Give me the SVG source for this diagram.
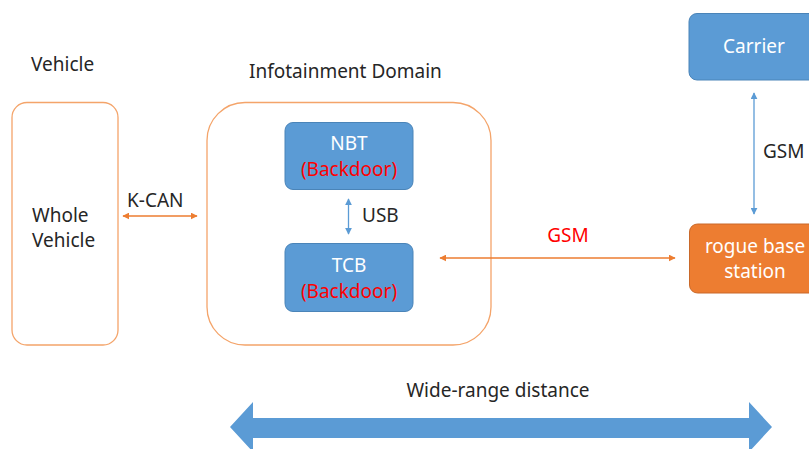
<svg xmlns="http://www.w3.org/2000/svg" width="809" height="449" viewBox="0 0 809 449">
  <style>
    text { font-family: "Noto Sans", "Open Sans", "Liberation Sans", sans-serif; font-size: 19px; }
    .dark { fill: #262626; }
    .white { fill: #ffffff; }
    .red { fill: #ff0000; }
    .outline { fill: #ffffff; stroke: #f4a46a; stroke-width: 1.3; }
    .blue { fill: #5b9bd5; stroke: #4a84b8; stroke-width: 1; }
    .orange { fill: #ed7d31; stroke: #c9692a; stroke-width: 1; }
    .link-o { stroke: #ed7d31; stroke-width: 1.5; fill: none; }
    .link-b { stroke: #5b9bd5; stroke-width: 1.3; fill: none; }
  </style>
  <defs>
    <marker id="ao" viewBox="0 0 10 10" refX="9" refY="5" markerWidth="7" markerHeight="7" markerUnits="userSpaceOnUse" orient="auto-start-reverse">
      <path d="M0,0 L10,5 L0,10 z" fill="#ed7d31"/>
    </marker>
    <marker id="ab" viewBox="0 0 10 10" refX="9" refY="5" markerWidth="7" markerHeight="7" markerUnits="userSpaceOnUse" orient="auto-start-reverse">
      <path d="M0,0 L10,5 L0,10 z" fill="#5b9bd5"/>
    </marker>
  </defs>

  <rect width="809" height="449" fill="#ffffff"/>

  <!-- section titles -->
  <text class="dark" x="31" y="71">Vehicle</text>
  <text class="dark" x="249" y="78">Infotainment Domain</text>

  <g id="whole-vehicle">
    <rect class="outline" x="12" y="102.5" width="106" height="242.5" rx="15"/>
    <text class="dark" x="32" y="222">Whole</text>
    <text class="dark" x="32" y="247">Vehicle</text>
  </g>

  <g id="infotainment-domain">
    <rect class="outline" x="207" y="102.5" width="284" height="242.5" rx="38"/>
  </g>

  <g id="nbt">
    <rect class="blue" x="285" y="122.5" width="128" height="67" rx="8"/>
    <text class="white" x="349" y="150" text-anchor="middle">NBT</text>
    <text class="red" x="349" y="176" text-anchor="middle">(Backdoor)</text>
  </g>

  <g id="tcb">
    <rect class="blue" x="285" y="243.5" width="128" height="68" rx="8"/>
    <text class="white" x="349" y="272" text-anchor="middle">TCB</text>
    <text class="red" x="349" y="298" text-anchor="middle">(Backdoor)</text>
  </g>

  <g id="carrier">
    <rect class="blue" x="689" y="13.5" width="140" height="66.5" rx="8"/>
    <text class="white" x="754" y="53" text-anchor="middle">Carrier</text>
  </g>

  <g id="rogue-base-station">
    <rect class="orange" x="689.5" y="224" width="140" height="69" rx="8"/>
    <text class="white" x="755" y="253" text-anchor="middle">rogue base</text>
    <text class="white" x="755" y="278" text-anchor="middle">station</text>
  </g>

  <g id="connectors">
    <line class="link-o" x1="123" y1="216" x2="197" y2="216" marker-start="url(#ao)" marker-end="url(#ao)"/>
    <text class="dark" x="127" y="207">K-CAN</text>

    <line class="link-b" x1="348.5" y1="199" x2="348.5" y2="234" marker-start="url(#ab)" marker-end="url(#ab)"/>
    <text class="dark" x="362" y="222">USB</text>

    <line class="link-o" x1="440" y1="258" x2="675" y2="258" marker-start="url(#ao)" marker-end="url(#ao)"/>
    <text class="red" x="568" y="242" text-anchor="middle">GSM</text>

    <line class="link-b" x1="754" y1="93" x2="754" y2="214" marker-start="url(#ab)" marker-end="url(#ab)"/>
    <text class="dark" x="763" y="158">GSM</text>

    <!-- wide double arrow -->
    <path d="M230,427 L253,402 L253,418 L749,418 L749,402 L772,427 L749,452 L749,438 L253,438 L253,452 Z" fill="#5b9bd5"/>
    <text class="dark" x="498" y="397" text-anchor="middle">Wide-range distance</text>
  </g>
</svg>
